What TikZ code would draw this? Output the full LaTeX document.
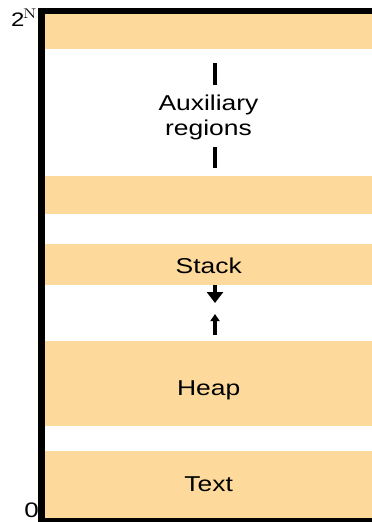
\documentclass[tikz,border=0pt]{standalone}
\usepackage{fontspec}
\newfontfamily\labelfont{Liberation Sans}[FakeStretch=1.23]
\usetikzlibrary{arrows.meta, positioning}
\definecolor{cband}{HTML}{FDDA9B}
\tikzset{
  every picture/.style={x=1pt, y=-1pt},
  band/.style={fill=cband, inner sep=0pt, minimum width=327pt, minimum height=#1, anchor=north west},
  lbl/.style={font=\labelfont\fontsize{21.5}{25}\selectfont, align=center},
  frame/.style={fill=black},
  tickline/.style={line width=3.5pt},
  growline/.style={line width=3.5pt},
}
\begin{document}
\begin{tikzpicture}
  \useasboundingbox (0,0) rectangle (372,522);
  % memory bands, top to bottom
  \node[band=35pt] (top) at (45,14) {};
  \node[band=38pt] (upper) at (45,176) {};
  \node[band=41pt] (stack) at (45,244) {};
  \node[band=85pt] (heap) at (45,341) {};
  \node[band=67pt] (text) at (45,451) {};
  \node[lbl] (stacklbl) at ([yshift=-1.5pt]stack.center) {Stack};
  \node[lbl] (heaplbl) at ([yshift=-7pt]heap.center) {Heap};
  \node[lbl] (textlbl) at (text.center) {Text};
  % auxiliary regions
  \node[lbl] (aux) at (208.5,117) {Auxiliary\\regions};
  \coordinate (a1) at (215,63);
  \coordinate (a2) at (215,85);
  \coordinate (a3) at (215,147);
  \coordinate (a4) at (215,168);
  \draw[tickline] (a1) -- (a2);
  \draw[tickline] (a3) -- (a4);
  % stack grows down, heap grows up
  \coordinate (s1) at (215,285);
  \coordinate (s2) at (215,303);
  \coordinate (h1) at (215,335);
  \coordinate (h2) at (215,314);
  \draw[growline, -{Triangle[width=16pt, length=11pt]}] (s1) -- (s2);
  \draw[growline, -{Triangle[width=9pt, length=7pt]}] (h1) -- (h2);
  % frame
  \fill[frame] (38,8) rectangle (45,522);
  \fill[frame] (38,8) rectangle (372,14);
  \fill[frame] (38,518) rectangle (372,522);
  % address labels
  \node[font=\labelfont\fontsize{19.5}{22}\selectfont, inner sep=0pt, anchor=base west] (hi) at (11,26) {2};
  \node[font=\normalfont\fontsize{14}{16}\selectfont, inner sep=0pt, anchor=base west] (hiexp) at (23,18.5) {\scalebox{1.3}[1]{N}};
  \node[font=\labelfont\fontsize{21}{24}\selectfont, inner sep=0pt, anchor=base east] (lo) at (39,517) {0};
\end{tikzpicture}
\end{document}
